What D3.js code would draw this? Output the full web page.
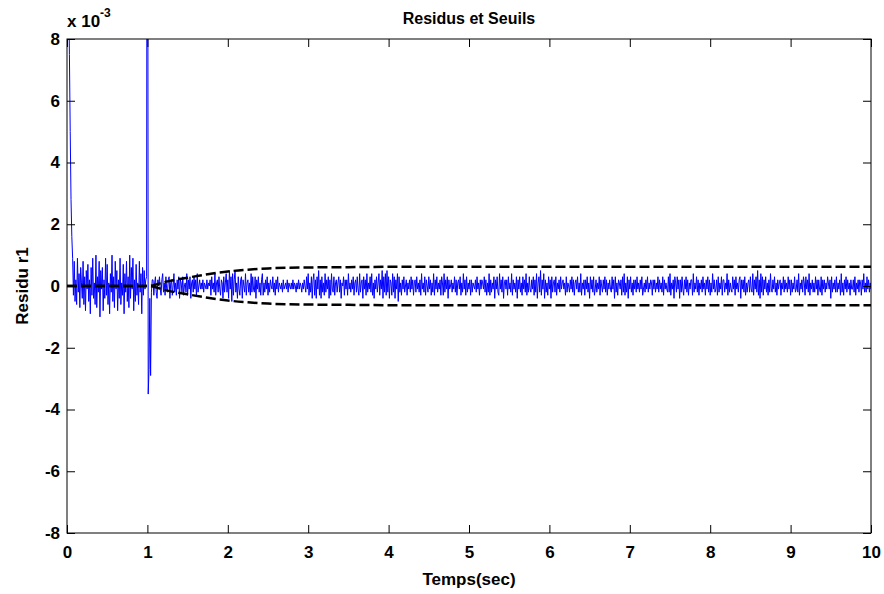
<!DOCTYPE html>
<html><head><meta charset="utf-8">
<script src="https://cdn.jsdelivr.net/npm/d3@7"></script>
<style>
html,body{margin:0;padding:0;background:#fff;}
text{font-family:Arial,"Liberation Sans",sans-serif;font-weight:bold;}
</style></head>
<body>
<svg id="chart" width="884" height="594"></svg>
<script>
// ---------- data ----------
const dt = 0.01;              // sampling step (sec)
const unit = 0.1;             // stored values are in tenths of 1e-3
const xTicks = [0,1,2,3,4,5,6,7,8,9,10];
const yTicks = [-8,-6,-4,-2,0,2,4,6,8];
const title = "Residus et Seuils";
const xLabel = "Temps(sec)";
const yLabel = "Residu r1";

// initial transient, t = 0 .. 0.07
const transientStart = [250,150,100,75,50,28,16,9];
// noise before the fault, t = 0.08 .. 0.98
const noiseBefore = [
-3,8,-5,2,-6,9,-2,4,-7,6,
1,-4,8,-6,3,-8,5,-1,7,-5,
2,-9,6,-3,9,-4,1,-6,10,-7,
3,-2,8,-10,5,-1,6,-8,2,-4,
9,-3,7,-6,1,-9,4,-2,10,-5,
3,-7,8,-1,5,-8,2,-4,9,-6,
1,-3,7,-9,4,-2,8,-5,3,-7,
10,-4,6,-1,9,-8,2,-5,7,-3,
1,-6,8,-2,4,-9,6,-3,5,-1,
2];
// spike at t = 0.99 .. 1.06
const spikeOne = [3,300,-35,-27,-4,-29,-2,2];
// noise after, t = 1.07 .. 10
const noiseAfter = [
2,-3,1,3,-2,-4,2,0,3,-1,
-3,2,4,-2,1,-3,3,-1,-2,2,
3,-4,1,2,-3,0,4,-2,1,-3,
2,-1,3,-4,2,1,-2,3,-3,0,
1,-2,4,-3,2,-1,3,-4,1,2,
-2,3,-1,2,-3,4,-2,0,2,-1,
1,-1,2,-2,1,0,-1,2,-1,1,
0,2,-3,3,-1,1,-2,4,-3,1,
2,-2,3,-1,-3,2,1,-4,3,-2,
1,4,-2,2,-4,5,-1,3,-5,4,
-3,2,5,-2,1,-4,3,-1,-3,2,
3,-4,2,0,-2,4,-3,1,2,-2,
1,-3,4,-2,3,-1,-2,3,-4,2,
-1,3,-2,1,-3,2,4,-3,1,-2,
2,-1,3,-3,1,-2,2,0,-1,3,
-2,1,-3,2,-1,3,-2,1,0,-1,
1,-2,2,-1,0,1,-1,2,-2,1,
0,-1,1,-1,2,-1,1,0,-2,1,
-1,2,-1,1,0,-2,1,-1,2,0,
-2,3,-1,4,-3,1,-2,3,-4,2,
4,-3,2,-4,3,-1,5,-3,2,-4,
3,-2,1,-3,4,-2,2,-1,3,-4,
2,-3,4,-1,-2,3,-3,1,2,-2,
1,3,-2,2,-4,1,0,3,-3,2,
-1,2,-3,4,-1,1,-2,2,-1,3,
-3,1,2,-2,3,-1,-3,4,-2,1,
2,-4,3,-1,2,-3,4,-2,1,-1,
3,-2,4,-3,1,-4,2,-1,3,-2,
1,4,-3,2,-1,5,-4,3,-2,4,
-3,5,-2,3,-4,2,1,-3,4,-2,
3,-4,2,-1,4,-5,3,-2,1,-3,
2,-1,3,-2,0,2,-3,1,-1,2,
-2,3,-1,2,-3,1,2,-2,3,-1,
1,-2,2,-3,4,-1,1,-2,3,-3,
2,0,-2,3,-1,2,-3,1,-2,4,
-3,2,-1,3,-2,1,-1,2,-3,3,
1,-3,4,-2,2,-1,3,-4,2,-1,
0,2,-2,1,-1,3,-2,2,-3,1,
2,-1,3,-3,1,-2,4,-1,2,-3,
3,-2,1,-1,2,-3,2,-2,1,0,
-1,2,-2,3,-1,1,-3,2,-1,2,
1,-1,3,-2,2,-3,1,-2,4,-3,
2,-2,1,-1,3,-4,2,-1,3,-2,
-3,4,-1,2,-2,3,-4,1,2,-1,
2,-3,3,-1,1,-2,4,-3,2,-1,
1,-2,3,-4,2,-1,3,-2,1,-3,
3,-1,2,-2,4,-3,1,-2,3,-1,
-2,2,-1,3,-3,2,-2,4,-4,1,
3,-2,5,-3,2,-1,4,-4,2,-2,
1,-3,3,-1,2,-4,3,-2,1,2,
-2,3,-3,1,-1,2,-2,3,-1,1,
2,-1,1,-3,3,-2,1,0,-2,2,
-1,3,-2,2,-3,1,2,-1,3,-2,
1,-2,4,-3,1,-1,2,-3,2,-1,
3,-2,1,-4,3,-1,2,-2,3,-3,
-1,2,-2,1,-1,3,-3,2,0,-2,
2,-1,3,-2,2,-3,1,-1,2,-1,
-2,3,-1,2,-4,3,-2,1,-3,2,
1,-1,2,-3,3,-2,4,-3,1,-2,
3,-4,2,-1,3,-2,1,-3,2,-1,
2,-2,3,-1,1,-2,2,-1,3,-3,
-1,1,-2,2,-1,3,-2,1,-1,2,
1,-3,2,-1,2,-2,1,-1,3,-2,
2,-1,1,-2,3,-3,2,-1,1,-1,
-2,3,-2,4,-3,1,-1,2,-4,3,
1,-2,3,-1,2,-4,2,-2,3,-1,
-3,2,-1,3,-2,2,-3,1,-1,2,
2,-3,4,-2,1,-1,3,-2,2,-3,
1,-1,2,-2,3,-1,1,-3,2,-1,
3,-2,2,-3,1,-2,4,-1,2,-2,
-1,2,-3,3,-2,1,-1,3,-3,2,
2,-2,1,-1,4,-3,2,-2,1,-1,
-2,3,-1,2,-3,3,-1,1,-2,2,
3,-4,2,-1,2,-2,3,-3,1,-2,
1,2,-2,3,-1,-2,4,-3,2,-1,
3,-2,5,-3,2,-4,4,-2,3,-3,
2,-1,3,-2,1,-3,2,-2,4,-1,
-2,2,-1,3,-2,1,-3,2,-1,1,
2,-3,1,-1,3,-2,2,-1,1,-2,
3,-1,2,-3,2,-2,1,-1,3,-2,
-1,2,-2,4,-3,1,-1,2,-2,3,
1,-3,3,-1,2,-2,4,-3,1,-1,
2,-2,1,-2,3,-1,2,-3,2,-1,
-2,3,-3,2,-1,2,-2,1,-1,3,
1,-1,2,-4,3,-2,1,-1,2,-2,
3,-2,1,-1,2,-3,4,-2,1,-3,
2,-1,3,-2,2,-1,1,-3,2,-1,
-1,2,-2,3,-3,1,-1,2,-2,2,
1,-3,2,-1,4,-2,1,-2,3,-1,
2,-2,1,-1,3,-2,2,-1,1,-2];

// thresholds (x 1e-3)
const seuilTemps = [0,1,1.25,1.5,1.75,2,2.25,2.5,3,3.5,4,10];
const seuilHaut  = [0,0,0.15,0.27,0.38,0.47,0.53,0.57,0.60,0.61,0.62,0.62];
const seuilBas   = [0,0,-0.15,-0.27,-0.38,-0.47,-0.53,-0.57,-0.60,-0.61,-0.62,-0.62];

// ---------- build ----------
const residu = [].concat(transientStart, noiseBefore, spikeOne, noiseAfter)
  .map((v,i)=>({t:i*dt, v:v*unit}));
const upper = seuilTemps.map((t,i)=>({t, v:seuilHaut[i]}));
const lower = seuilTemps.map((t,i)=>({t, v:seuilBas[i]}));

const svg = d3.select("#chart");
const m = {left:67, right:871, top:39, bottom:533};
const x = d3.scaleLinear().domain([0,10]).range([m.left, m.right]);
const y = d3.scaleLinear().domain([-8,8]).range([m.bottom, m.top]);

svg.append("defs").append("clipPath").attr("id","clip")
  .append("rect").attr("x",m.left).attr("y",m.top)
  .attr("width",m.right-m.left).attr("height",m.bottom-m.top);

const plot = svg.append("g").attr("clip-path","url(#clip)");
const line = d3.line().x(d=>x(d.t)).y(d=>y(d.v));

plot.append("path").datum(residu).attr("d",line)
  .attr("fill","none").attr("stroke","#0000ff").attr("stroke-width",1);

[upper, lower].forEach(s=>{
  plot.append("path").datum(s).attr("d", d3.line().curve(d3.curveMonotoneX).x(d=>x(d.t)).y(d=>y(d.v)))
    .attr("fill","none").attr("stroke","#000").attr("stroke-width",2.5)
    .attr("stroke-dasharray","10,4");
});

// axes
const fs = "17px";
const fmt = d => String(d);   // plain hyphen-minus like the original
const gx = svg.append("g").attr("transform",`translate(0,${m.bottom})`)
  .call(d3.axisBottom(x).tickValues(xTicks).tickFormat(fmt)
    .tickSizeInner(-8).tickSizeOuter(0).tickPadding(13));
const gy = svg.append("g").attr("transform",`translate(${m.left},0)`)
  .call(d3.axisLeft(y).tickValues(yTicks).tickFormat(fmt)
    .tickSizeInner(-8).tickSizeOuter(0).tickPadding(7));
const gt = svg.append("g").attr("transform",`translate(0,${m.top})`)
  .call(d3.axisTop(x).tickValues(xTicks).tickFormat("").tickSizeInner(-8).tickSizeOuter(0));
const gr = svg.append("g").attr("transform",`translate(${m.right},0)`)
  .call(d3.axisRight(y).tickValues(yTicks).tickFormat("").tickSizeInner(-8).tickSizeOuter(0));
[gx,gy,gt,gr].forEach(g=>{
  g.selectAll(".domain").remove();
  g.selectAll("line").attr("stroke","#000");
  g.selectAll("text").attr("fill","#000").style("font-size",fs)
   .style("font-family","Arial, 'Liberation Sans', sans-serif").style("font-weight","bold");
});
svg.append("rect").attr("x",m.left).attr("y",m.top)
  .attr("width",m.right-m.left).attr("height",m.bottom-m.top)
  .attr("fill","none").attr("stroke","#000").attr("stroke-width",1);

// labels
svg.append("text").attr("x",(m.left+m.right)/2).attr("y",24)
  .attr("text-anchor","middle").style("font-size","16px").text(title);
svg.append("text").attr("x",(m.left+m.right)/2).attr("y",585)
  .attr("text-anchor","middle").style("font-size","17px").text(xLabel);
svg.append("text").attr("transform",`translate(28,${(m.top+m.bottom)/2}) rotate(-90)`)
  .attr("text-anchor","middle").style("font-size","17px").text(yLabel);
const exp = svg.append("text").attr("x",67).attr("y",27).style("font-size","17px");
exp.append("tspan").text("x 10");
exp.append("tspan").attr("dy",-10).style("font-size","12px").text("-3");
</script>
</body></html>
